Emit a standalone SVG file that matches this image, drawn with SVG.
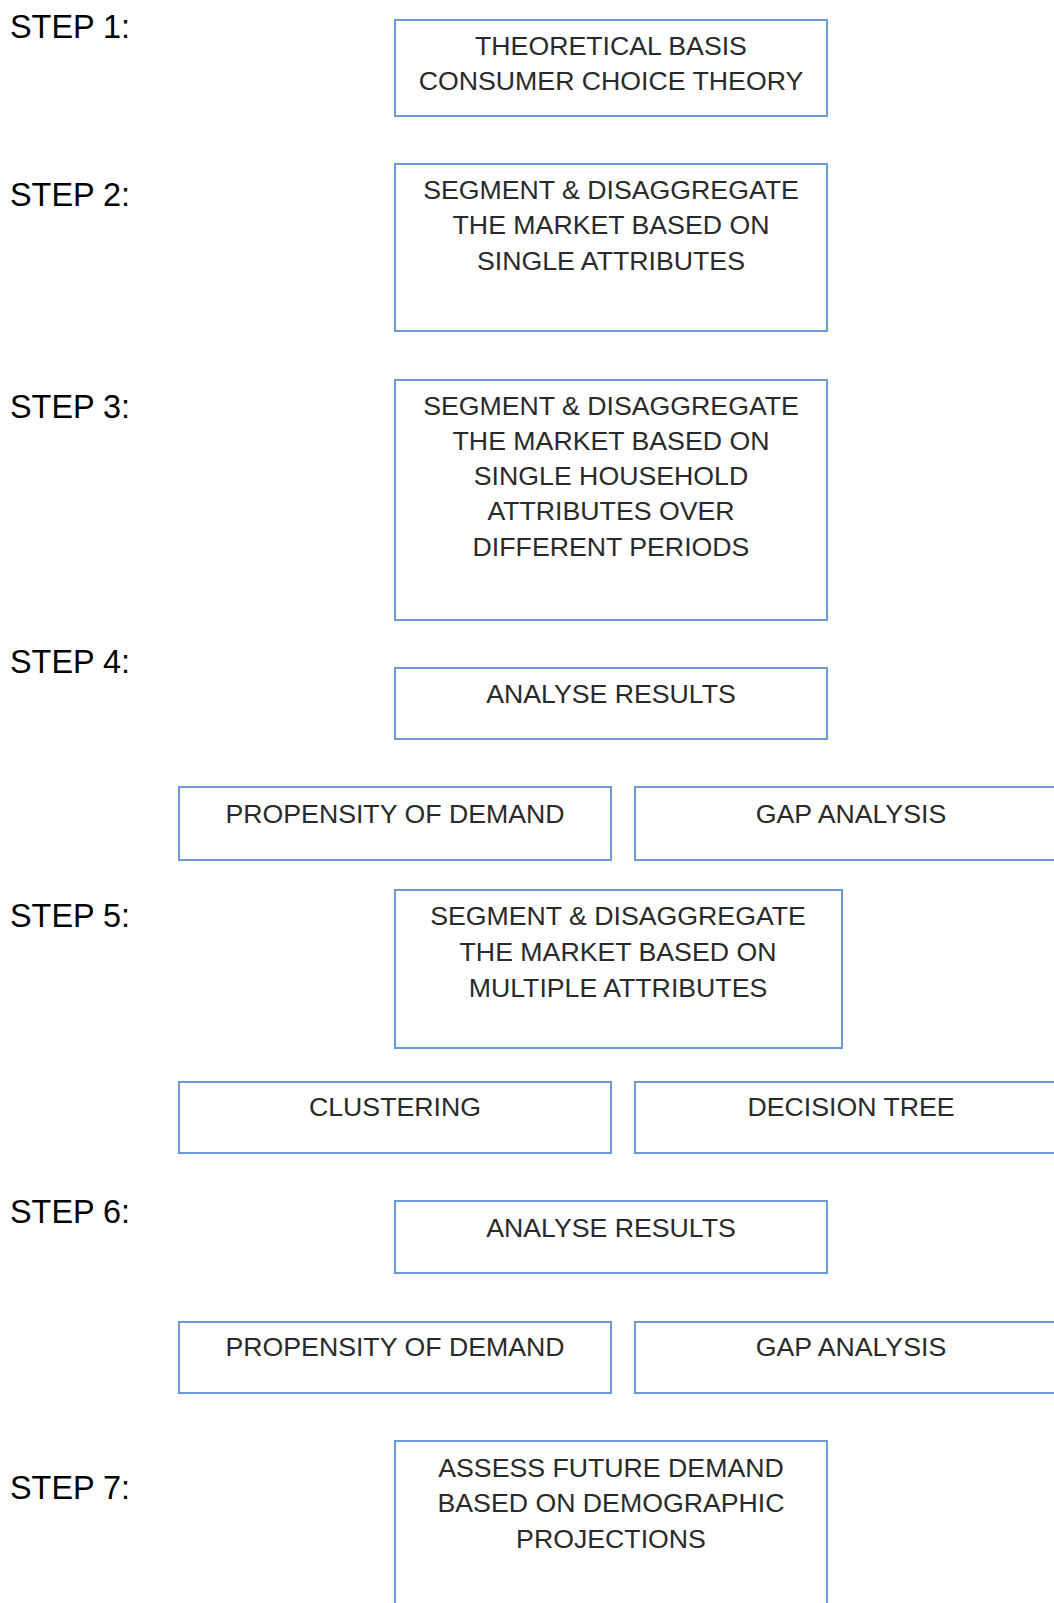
<svg xmlns="http://www.w3.org/2000/svg" width="1054" height="1603" viewBox="0 0 1054 1603">
<style>
.box{fill:#ffffff;stroke:#6b9bd2;stroke-width:2}
.t{font-family:"Liberation Sans",Arial,sans-serif;font-size:26.7px;fill:#2a2a2a;text-anchor:middle}
.s{font-family:"Liberation Sans",Arial,sans-serif;font-size:32.4px;fill:#000000}
</style>
<rect width="1054" height="1603" fill="#ffffff"/>
<g id="labels">
<text class="s" x="10" y="38">STEP 1:</text>
<text class="s" x="10" y="206">STEP 2:</text>
<text class="s" x="10" y="418">STEP 3:</text>
<text class="s" x="10" y="673">STEP 4:</text>
<text class="s" x="10" y="927">STEP 5:</text>
<text class="s" x="10" y="1223">STEP 6:</text>
<text class="s" x="10" y="1499">STEP 7:</text>
</g>
<g id="n1"><rect class="box" x="395" y="20" width="432" height="96"/>
<text class="t" x="611" y="55">THEORETICAL BASIS</text>
<text class="t" x="611" y="90">CONSUMER CHOICE THEORY</text></g>
<g id="n2"><rect class="box" x="395" y="164" width="432" height="167"/>
<text class="t" x="611" y="199">SEGMENT &amp; DISAGGREGATE</text>
<text class="t" x="611" y="234">THE MARKET BASED ON</text>
<text class="t" x="611" y="270">SINGLE ATTRIBUTES</text></g>
<g id="n3"><rect class="box" x="395" y="380" width="432" height="240"/>
<text class="t" x="611" y="415">SEGMENT &amp; DISAGGREGATE</text>
<text class="t" x="611" y="450">THE MARKET BASED ON</text>
<text class="t" x="611" y="485">SINGLE HOUSEHOLD</text>
<text class="t" x="611" y="520">ATTRIBUTES OVER</text>
<text class="t" x="611" y="556">DIFFERENT PERIODS</text></g>
<g id="n4"><rect class="box" x="395" y="668" width="432" height="71"/>
<text class="t" x="611" y="703">ANALYSE RESULTS</text></g>
<g id="n4a"><rect class="box" x="179" y="787" width="432" height="73"/>
<text class="t" x="395" y="823">PROPENSITY OF DEMAND</text></g>
<g id="n4b"><rect class="box" x="635" y="787" width="432" height="73"/>
<text class="t" x="851" y="823">GAP ANALYSIS</text></g>
<g id="n5"><rect class="box" x="395" y="890" width="447" height="158"/>
<text class="t" x="618" y="925">SEGMENT &amp; DISAGGREGATE</text>
<text class="t" x="618" y="961">THE MARKET BASED ON</text>
<text class="t" x="618" y="997">MULTIPLE ATTRIBUTES</text></g>
<g id="n5a"><rect class="box" x="179" y="1082" width="432" height="71"/>
<text class="t" x="395" y="1116">CLUSTERING</text></g>
<g id="n5b"><rect class="box" x="635" y="1082" width="432" height="71"/>
<text class="t" x="851" y="1116">DECISION TREE</text></g>
<g id="n6"><rect class="box" x="395" y="1201" width="432" height="72"/>
<text class="t" x="611" y="1237">ANALYSE RESULTS</text></g>
<g id="n6a"><rect class="box" x="179" y="1322" width="432" height="71"/>
<text class="t" x="395" y="1356">PROPENSITY OF DEMAND</text></g>
<g id="n6b"><rect class="box" x="635" y="1322" width="432" height="71"/>
<text class="t" x="851" y="1356">GAP ANALYSIS</text></g>
<g id="n7"><rect class="box" x="395" y="1441" width="432" height="200"/>
<text class="t" x="611" y="1477">ASSESS FUTURE DEMAND</text>
<text class="t" x="611" y="1512">BASED ON DEMOGRAPHIC</text>
<text class="t" x="611" y="1548">PROJECTIONS</text></g>
<g id="connectors"></g>
</svg>
